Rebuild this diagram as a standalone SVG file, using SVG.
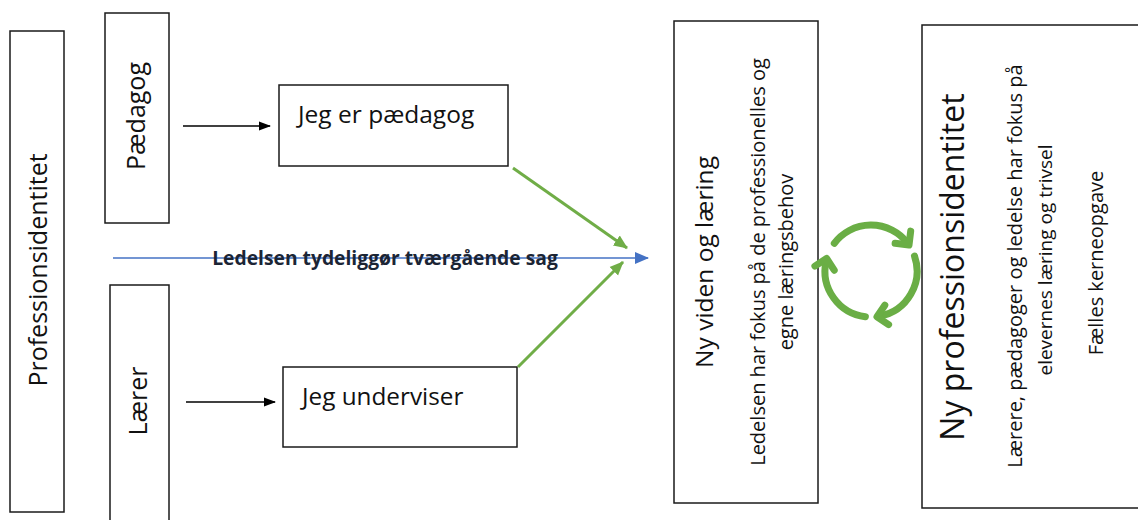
<svg xmlns="http://www.w3.org/2000/svg" width="1138" height="520" viewBox="0 0 1138 520">
<style>
.box{fill:#fff;stroke:#1a1a1a;stroke-width:1.5}
.t{font-family:"Open Sans","Noto Sans",sans-serif;fill:#111}
.blk{stroke:#000;stroke-width:1.5;fill:none}
.grn{stroke:#70AD47;stroke-width:3;fill:none}
.blu{stroke:#4472C4;stroke-width:1.4;fill:none}
.cyc{stroke:#6AAE45;stroke-width:7;fill:none;stroke-linecap:round;stroke-linejoin:round}
</style>
<defs>
<marker id="ab" markerWidth="12" markerHeight="12" refX="11" refY="6" orient="auto" markerUnits="userSpaceOnUse"><path d="M0,1.5 L12,6 L0,10.5 Z" fill="#000"/></marker>
<marker id="ag" markerWidth="14" markerHeight="14" refX="13" refY="7" orient="auto" markerUnits="userSpaceOnUse"><path d="M0,1 L14,7 L0,13 Z" fill="#70AD47"/></marker>
<marker id="au" markerWidth="14" markerHeight="14" refX="13" refY="7" orient="auto" markerUnits="userSpaceOnUse"><path d="M0,1 L14,7 L0,13 Z" fill="#4472C4"/></marker>
</defs>
<rect width="1138" height="520" fill="#fff"/>
<g id="n-professionsidentitet">
<rect class="box" x="10" y="31" width="54" height="481"/>
<text class="t" font-size="25" text-anchor="middle" transform="translate(47,270) rotate(-90)">Professionsidentitet</text>
</g>
<g id="n-paedagog">
<rect class="box" x="105" y="13" width="64" height="210"/>
<text class="t" font-size="25" text-anchor="middle" transform="translate(145,116) rotate(-90)">Pædagog</text>
</g>
<g id="n-laerer">
<rect class="box" x="110" y="285" width="59" height="250"/>
<text class="t" font-size="25" text-anchor="middle" transform="translate(147,401) rotate(-90)">Lærer</text>
</g>
<g id="n-jeg-er-paedagog">
<rect class="box" x="279" y="85" width="229" height="81"/>
<text class="t" font-size="24.5" x="298" y="123">Jeg er pædagog</text>
</g>
<g id="n-jeg-underviser">
<rect class="box" x="283" y="367" width="234" height="80"/>
<text class="t" font-size="24.3" x="302" y="405">Jeg underviser</text>
</g>
<g id="n-ny-viden">
<rect class="box" x="674" y="21" width="144" height="482"/>
<text class="t" font-size="24.5" text-anchor="middle" transform="translate(713,262) rotate(-90)">Ny viden og læring</text>
<text class="t" font-size="20" text-anchor="middle" transform="translate(765,262) rotate(-90)">Ledelsen har fokus på de professionelles og</text>
<text class="t" font-size="20" text-anchor="middle" transform="translate(793,262) rotate(-90)">egne læringsbehov</text>
</g>
<g id="n-ny-professionsidentitet">
<rect class="box" x="922" y="25" width="230" height="483"/>
<text class="t" font-size="32" text-anchor="middle" transform="translate(964,267) rotate(-90)">Ny professionsidentitet</text>
<text class="t" font-size="20" text-anchor="middle" transform="translate(1022,266) rotate(-90)">Lærere, pædagoger og ledelse har fokus på</text>
<text class="t" font-size="19" text-anchor="middle" transform="translate(1052,260) rotate(-90)">elevernes læring og trivsel</text>
<text class="t" font-size="20" text-anchor="middle" transform="translate(1103,263) rotate(-90)">Fælles kerneopgave</text>
</g>
<g id="connectors">
<line class="blk" x1="183" y1="126" x2="270" y2="126" marker-end="url(#ab)"/>
<line class="blk" x1="186" y1="402" x2="275" y2="402" marker-end="url(#ab)"/>
<line class="blu" x1="113" y1="258" x2="648" y2="258" marker-end="url(#au)"/>
<line class="grn" x1="513" y1="168" x2="627" y2="248" marker-end="url(#ag)"/>
<line class="grn" x1="518" y1="367" x2="623" y2="262" marker-end="url(#ag)"/>
<text x="385" y="265" text-anchor="middle" font-family="Open Sans, Noto Sans, sans-serif" font-weight="bold" font-size="19.3" fill="#1b2535">Ledelsen tydeliggør tværgående sag</text>
<g id="cycle">
<path class="cyc" d="M834.3 243.3 A46 46 0 0 1 907.2 242.7"/>
<path class="cyc" d="M910.7 231.1 L909 245 L895.1 243.3"/>
<path class="cyc" d="M914.5 256 A46 46 0 0 1 879.8 316.2"/>
<path class="cyc" d="M888.6 324.6 L877 316.8 L884.8 305.2"/>
<path class="cyc" d="M865.4 316.7 A46 46 0 0 1 826 261.4"/>
<path class="cyc" d="M814.9 266.1 L826.6 258.5 L834.2 270.2"/>
</g>
</g>
</svg>
